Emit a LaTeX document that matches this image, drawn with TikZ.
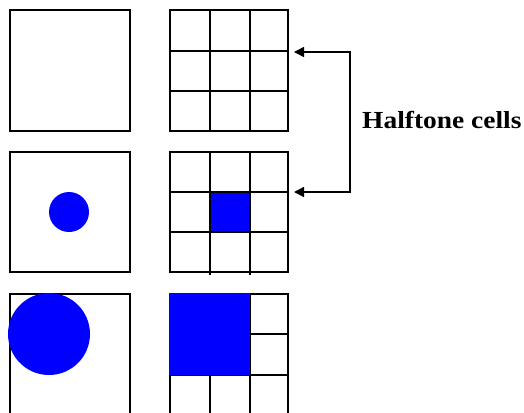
\documentclass[tikz,border=0pt]{standalone}
\usepackage{fontspec}
\setmainfont{Liberation Serif}
\usetikzlibrary{arrows.meta}
\definecolor{dotblue}{RGB}{0,0,255}
\tikzset{
  frame/.style={draw=black, line width=2pt},
  gridline/.style={draw=black, line width=2pt},
  dotfill/.style={fill=dotblue, draw=none},
  link/.style={draw=black, line width=1.5pt, {Triangle[length=10pt,width=10pt]}-{Triangle[length=10pt,width=10pt]}},
  label/.style={font=\bfseries\fontsize{24.5}{28}\selectfont, inner sep=0pt, anchor=base west}
}
\begin{document}
\begin{tikzpicture}[x=1pt,y=-1pt]
\useasboundingbox (0,0) rectangle (524,412);
\clip (0,0) rectangle (524,412);
\fill[white] (0,0) rectangle (524,412);
% row 1
\draw[frame] (10,10) rectangle (130,131);
\draw[gridline] (170,10) rectangle (288,131);
\draw[gridline] (210,10) -- (210,131) (250,10) -- (250,131)
                (170,51) -- (288,51) (170,91) -- (288,91);
% row 2
\draw[frame] (10,152) rectangle (130,272);
\fill[dotfill] (69,212) circle (20);
\fill[dotfill] (210,191.5) rectangle (250,232);
\draw[gridline] (170,152) rectangle (288,272);
\draw[gridline] (210,152) -- (210,275) (250,152) -- (250,275)
                (170,191.5) -- (288,191.5) (170,232) -- (288,232);
% row 3
\draw[frame] (10,294) rectangle (130,430);
\draw[gridline] (170,294) rectangle (288,430);
\draw[gridline] (210,375) -- (210,430) (250,294) -- (250,430)
                (250,334) -- (288,334) (170,375) -- (288,375);
\fill[dotfill] (49,334) circle (41);
\fill[dotfill] (169,293) rectangle (250,375);
% connector
\coordinate (t1) at (294,52);
\coordinate (t2) at (294,192);
\draw[link] (t1) -- (350,52) -- (350,192) -- (t2);
\node[label] (hc) at (362,128) {\scalebox{1.12}[1]{Halftone cells}};
\end{tikzpicture}
\end{document}
